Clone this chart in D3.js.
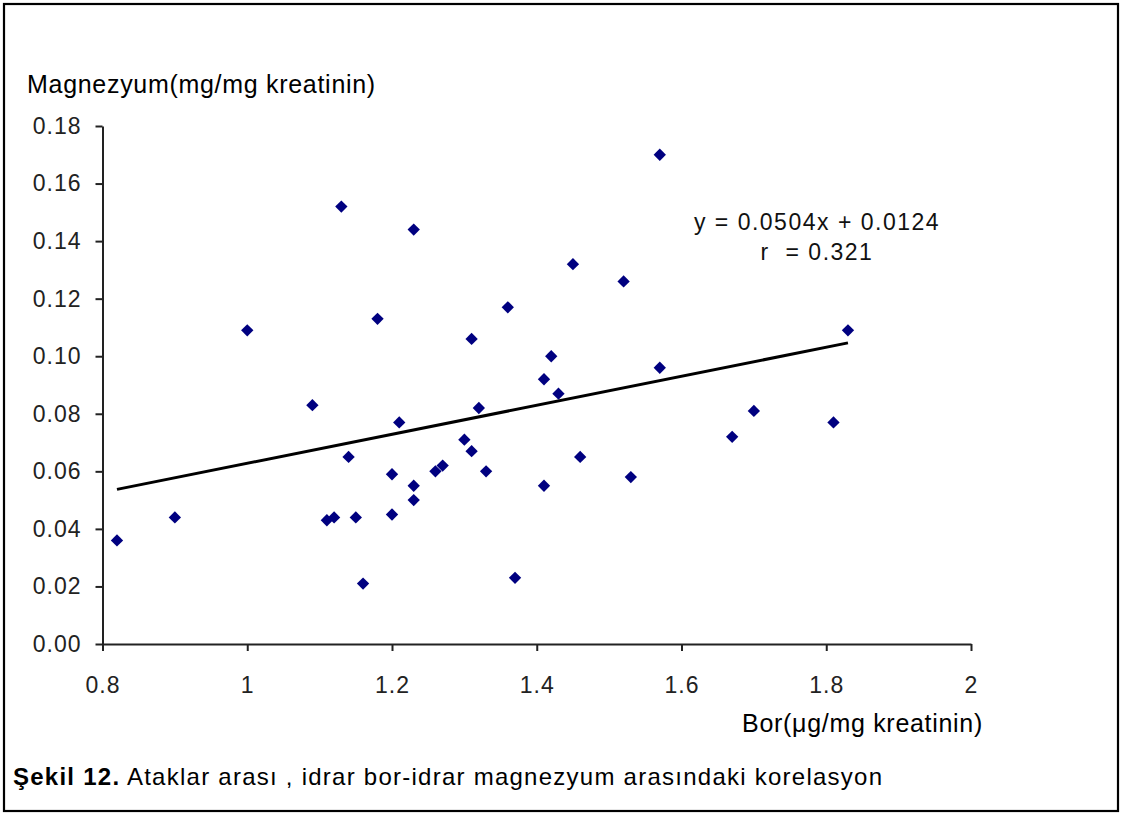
<!DOCTYPE html>
<html>
<head>
<meta charset="utf-8">
<script src="https://cdn.jsdelivr.net/npm/d3@7"></script>
<style>
    body { margin: 0; background: #fff; }
    svg text { font-family: 'Liberation Sans', Arial, sans-serif; }
</style>
</head>
<body>
<div id="chart"></div>
<script>
// bor (x) and magnezyum (y)
const borValues = [0.82, 0.90, 1.00, 1.09, 1.11, 1.12, 1.13, 1.14, 1.15, 1.16,
    1.18, 1.20, 1.20, 1.21, 1.23, 1.23, 1.23, 1.26, 1.27, 1.30,
    1.31, 1.31, 1.32, 1.33, 1.36, 1.37, 1.41, 1.41, 1.42, 1.43,
    1.45, 1.46, 1.52, 1.53, 1.57, 1.57, 1.67, 1.70, 1.81, 1.83];
const magnezyumValues = [0.036, 0.044, 0.109, 0.083, 0.043, 0.044, 0.152, 0.065, 0.044, 0.021,
    0.113, 0.045, 0.059, 0.077, 0.144, 0.055, 0.050, 0.060, 0.062, 0.071,
    0.067, 0.106, 0.082, 0.060, 0.117, 0.023, 0.092, 0.055, 0.100, 0.087,
    0.132, 0.065, 0.126, 0.058, 0.170, 0.096, 0.072, 0.081, 0.077, 0.109];

const xTicks = [0.8, 1, 1.2, 1.4, 1.6, 1.8, 2];
const yTicks = [0, 0.02, 0.04, 0.06, 0.08, 0.10, 0.12, 0.14, 0.16, 0.18];

// trend line from the printed equation
const slope = 0.0504;
const intercept = 0.0124;
const eqLabels = ['y = 0.0504x + 0.0124', 'r  = 0.321'];

const WIDTH = 1124, HEIGHT = 814;
const MARGIN = { top: 126, right: 153, bottom: 170, left: 102.5 };

const svg = d3.select('#chart').append('svg')
    .attr('width', WIDTH).attr('height', HEIGHT);

// outer frame
svg.append('rect')
    .attr('x', 4).attr('y', 4)
    .attr('width', 1114).attr('height', 807)
    .attr('fill', 'none').attr('stroke', '#000').attr('stroke-width', 2.2);

const x = d3.scaleLinear()
    .domain([xTicks[0], xTicks[xTicks.length - 1]])
    .range([MARGIN.left, WIDTH - MARGIN.right]);

const y = d3.scaleLinear()
    .domain([yTicks[0], yTicks[yTicks.length - 1]])
    .range([HEIGHT - MARGIN.bottom, MARGIN.top]);

// Y AXIS
const yAxis = svg.append('g')
    .attr('transform', `translate(${x.range()[0]},0)`)
    .call(d3.axisLeft(y).tickValues(yTicks).tickSize(7).tickSizeOuter(0)
        .tickPadding(14).tickFormat(d3.format('.2f')));

// X AXIS
const xAxis = svg.append('g')
    .attr('transform', `translate(0,${y.range()[0]})`)
    .call(d3.axisBottom(x).tickValues(xTicks).tickSize(7).tickSizeOuter(0)
        .tickPadding(26).tickFormat(d => d));

[xAxis, yAxis].forEach(ax => {
    ax.select('.domain').attr('stroke', '#222').attr('stroke-width', 2);
    ax.selectAll('.tick line').attr('stroke', '#222').attr('stroke-width', 2);
    ax.selectAll('.tick text')
        .attr('fill', '#222')
        .style('font-size', '23px')
        .style('letter-spacing', '1px');
});

// TREND LINE
const xExt = d3.extent(borValues);
svg.append('path')
    .datum(xExt.map(v => [v, slope * v + intercept]))
    .attr('d', d3.line().x(d => x(d[0])).y(d => y(d[1])))
    .attr('fill', 'none')
    .attr('stroke', '#000')
    .attr('stroke-width', 3);

// POINTS
const diamond = d3.symbol(d3.symbolSquare, 76);
svg.selectAll('.pt')
    .data(borValues.map((b, i) => ({ b, m: magnezyumValues[i] })))
    .enter()
    .append('path')
    .attr('class', 'pt')
    .attr('d', diamond)
    .attr('transform', d => `translate(${x(d.b)},${y(d.m)}) rotate(45)`)
    .attr('fill', '#000080');

// equation text
svg.selectAll('.eq')
    .data(eqLabels)
    .enter()
    .append('text')
    .attr('class', 'eq')
    .attr('x', 817)
    .attr('y', (d, i) => 230 + i * 30)
    .attr('text-anchor', 'middle')
    .style('font-size', '23px')
    .style('letter-spacing', '1.5px')
    .style('white-space', 'pre')
    .attr('fill', '#111')
    .text(d => d);

// axis titles
svg.append('text')
    .attr('x', 27).attr('y', 93)
    .style('font-size', '25px')
    .style('letter-spacing', '0.7px')
    .text('Magnezyum(mg/mg kreatinin)');

svg.append('text')
    .attr('x', 983).attr('y', 732)
    .attr('text-anchor', 'end')
    .style('font-size', '25px')
    .style('letter-spacing', '0.7px')
    .text('Bor(μg/mg kreatinin)');

// caption
const cap = svg.append('text')
    .attr('x', 13).attr('y', 785)
    .style('font-size', '24px')
    .style('letter-spacing', '1.25px');
cap.append('tspan').attr('font-weight', 'bold').text('Şekil 12.');
cap.append('tspan').text(' Ataklar arası , idrar bor-idrar magnezyum arasındaki korelasyon');
</script>
</body>
</html>
